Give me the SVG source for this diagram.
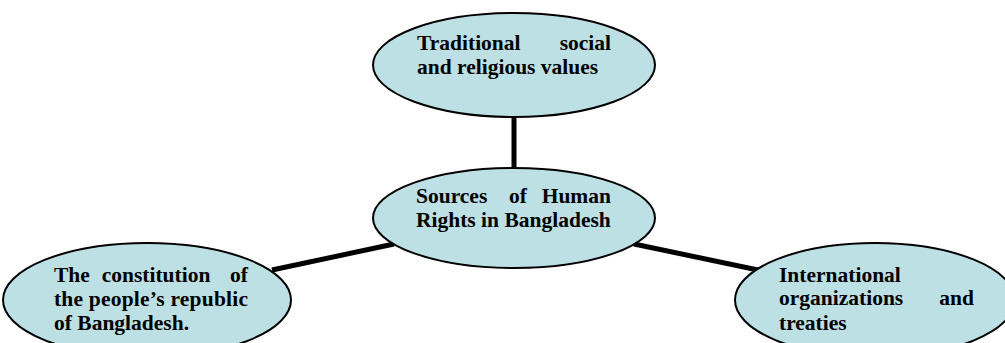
<svg xmlns="http://www.w3.org/2000/svg" width="1005" height="343" viewBox="0 0 1005 343">
  <style>
    .node ellipse { fill: #bde0e4; stroke: #000; stroke-width: 2; }
    .node text { font-family: "Liberation Serif", "Times New Roman", serif; font-weight: bold; font-size: 21.5px; fill: #000; }
    .links line { stroke: #000; stroke-width: 5; }
  </style>
  <rect width="1005" height="343" fill="#fff"/>
  <g class="links">
    <line x1="514" y1="116" x2="514" y2="169"/>
    <line x1="272" y1="270" x2="394" y2="244"/>
    <line x1="634" y1="244" x2="758" y2="270"/>
  </g>
  <g id="node-traditional" class="node">
    <ellipse cx="514" cy="65" rx="141" ry="52"/>
    <text x="417" y="50">Traditional</text>
    <text x="611" y="50" text-anchor="end">social</text>
    <text x="417" y="74">and religious values</text>
  </g>
  <g id="node-sources" class="node">
    <ellipse cx="514" cy="218" rx="141" ry="50"/>
    <text x="416" y="203">Sources</text>
    <text x="518" y="203" text-anchor="middle">of</text>
    <text x="611" y="203" text-anchor="end">Human</text>
    <text x="416" y="227">Rights in Bangladesh</text>
  </g>
  <g id="node-constitution" class="node">
    <ellipse cx="147" cy="300" rx="144" ry="57"/>
    <text x="54" y="282">The</text>
    <text x="156" y="282" text-anchor="middle">constitution</text>
    <text x="248" y="282" text-anchor="end">of</text>
    <text x="54" y="306" textLength="194" lengthAdjust="spacing">the people’s republic</text>
    <text x="54" y="330">of Bangladesh.</text>
  </g>
  <g id="node-international" class="node">
    <ellipse cx="875" cy="300" rx="140" ry="57"/>
    <text x="779" y="282">International</text>
    <text x="779" y="305">organizations</text>
    <text x="974" y="305" text-anchor="end">and</text>
    <text x="779" y="330">treaties</text>
  </g>
</svg>
